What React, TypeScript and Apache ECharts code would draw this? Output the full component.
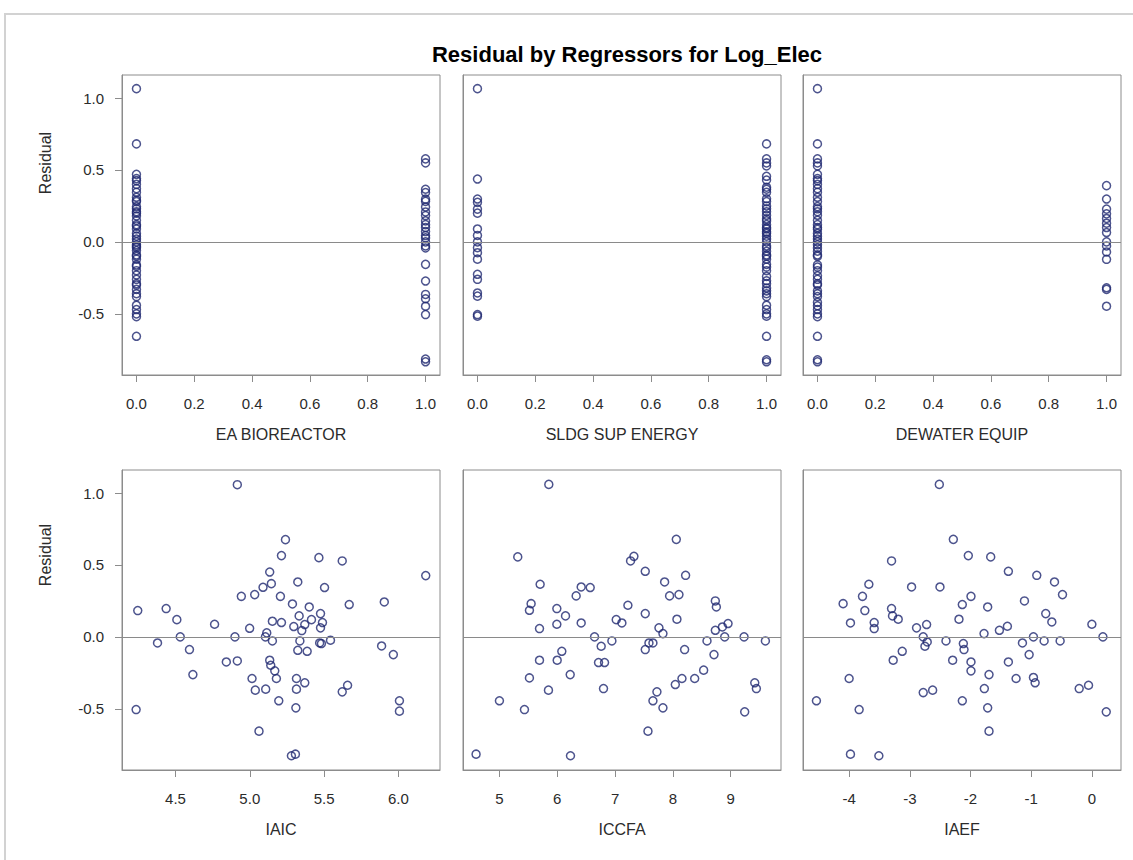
import React, { useEffect, useRef } from "react";
import * as echarts from "echarts";

const TITLE = "Residual by Regressors for Log_Elec";
const Y_NAME = "Residual";
const X_NAMES = ["EA BIOREACTOR", "SLDG SUP ENERGY", "DEWATER EQUIP", "IAIC", "ICCFA", "IAEF"];

const Y_TICKS = [-0.5, 0, 0.5, 1.0];
const BIN_TICKS = [0, 0.2, 0.4, 0.6, 0.8, 1.0];
const IAIC_TICKS = [4.5, 5.0, 5.5, 6.0];
const ICCFA_TICKS = [5, 6, 7, 8, 9];
const IAEF_TICKS = [-4, -3, -2, -1, 0];

// Residuals at indicator value 0 / 1
const eaBio0 = [1.065, 0.681, 0.47, 0.44, 0.426, 0.4, 0.37, 0.345, 0.31, 0.29, 0.28, 0.245, 0.23, 0.21, 0.2, 0.18, 0.15, 0.12, 0.11, 0.09, 0.06, 0.04, 0.02, 0.0, -0.02, -0.03, -0.04, -0.06, -0.09, -0.1, -0.12, -0.16, -0.17, -0.2, -0.23, -0.26, -0.29, -0.3, -0.33, -0.36, -0.38, -0.44, -0.47, -0.5, -0.52, -0.656];
const eaBio1 = [0.577, 0.549, 0.366, 0.343, 0.297, 0.282, 0.243, 0.208, 0.183, 0.146, 0.12, 0.1, 0.072, 0.044, 0.028, 0.0, -0.028, -0.042, -0.156, -0.272, -0.365, -0.395, -0.447, -0.505, -0.814, -0.833];
const sldg0 = [1.065, 0.437, 0.298, 0.275, 0.228, 0.2, 0.09, 0.045, 0.0, -0.04, -0.075, -0.12, -0.225, -0.26, -0.355, -0.377, -0.505, -0.516];
const sldg1 = [0.681, 0.577, 0.549, 0.528, 0.456, 0.43, 0.38, 0.366, 0.345, 0.3, 0.28, 0.25, 0.23, 0.21, 0.185, 0.16, 0.146, 0.12, 0.1, 0.09, 0.07, 0.06, 0.04, 0.02, 0.0, -0.028, -0.042, -0.065, -0.09, -0.1, -0.12, -0.156, -0.175, -0.2, -0.24, -0.27, -0.29, -0.32, -0.34, -0.36, -0.38, -0.44, -0.47, -0.5, -0.516, -0.656, -0.819, -0.833];
const dewater0 = [1.065, 0.681, 0.577, 0.549, 0.528, 0.47, 0.44, 0.426, 0.4, 0.37, 0.345, 0.31, 0.28, 0.245, 0.23, 0.21, 0.185, 0.15, 0.12, 0.1, 0.088, 0.06, 0.04, 0.02, 0.0, -0.02, -0.042, -0.065, -0.09, -0.1, -0.16, -0.175, -0.2, -0.236, -0.26, -0.29, -0.3, -0.34, -0.36, -0.38, -0.42, -0.444, -0.47, -0.5, -0.52, -0.656, -0.819, -0.833];
const dewater1 = [0.391, 0.298, 0.228, 0.195, 0.163, 0.13, 0.1, 0.065, 0.0, -0.028, -0.07, -0.121, -0.319, -0.33, -0.447];

// [regressor, residual]
const iaic = [
  [4.916, 1.058], [5.24, 0.676], [5.213, 0.565], [5.465, 0.551], [5.622, 0.528], [6.184, 0.426],
  [5.134, 0.451], [5.145, 0.37], [5.089, 0.345], [5.323, 0.382], [5.503, 0.343], [4.943, 0.282],
  [5.033, 0.294], [5.206, 0.282], [5.287, 0.229], [5.4, 0.208], [5.669, 0.225], [5.905, 0.243],
  [4.246, 0.183], [4.437, 0.197], [4.509, 0.12], [4.763, 0.088], [4.999, 0.06], [5.152, 0.109],
  [5.213, 0.1], [5.296, 0.072], [5.332, 0.146], [5.37, 0.086], [5.35, 0.044], [5.415, 0.12],
  [5.476, 0.162], [5.489, 0.1], [5.476, 0.063], [5.543, -0.023], [5.47, -0.042], [5.482, -0.046],
  [5.337, -0.028], [5.323, -0.093], [5.386, -0.1], [5.114, 0.028], [5.105, 0.0], [5.152, -0.028],
  [4.9, 0.0], [4.532, 0.0], [4.379, -0.042], [4.594, -0.088], [5.887, -0.063], [5.966, -0.123],
  [4.617, -0.262], [4.842, -0.174], [4.916, -0.167], [5.134, -0.162], [5.141, -0.197], [5.168, -0.236],
  [5.179, -0.289], [5.015, -0.289], [5.037, -0.37], [5.107, -0.363], [5.195, -0.444], [5.314, -0.289],
  [5.37, -0.319], [5.314, -0.363], [5.31, -0.493], [5.658, -0.336], [5.622, -0.382], [6.007, -0.444],
  [6.007, -0.516], [4.235, -0.505], [5.062, -0.655], [5.28, -0.826], [5.307, -0.815],
];
const iccfa = [
  [5.854, 1.06], [8.059, 0.678], [5.317, 0.556], [7.326, 0.56], [7.268, 0.528], [7.522, 0.456],
  [8.22, 0.428], [7.857, 0.382], [5.704, 0.366], [6.414, 0.347], [6.57, 0.343], [6.327, 0.285],
  [7.943, 0.285], [8.105, 0.294], [5.548, 0.231], [5.519, 0.185], [7.222, 0.22], [5.993, 0.197],
  [6.143, 0.146], [7.522, 0.162], [8.734, 0.25], [8.752, 0.208], [7.02, 0.12], [7.118, 0.097],
  [6.414, 0.097], [5.993, 0.088], [5.693, 0.058], [8.07, 0.123], [7.759, 0.063], [7.828, 0.023],
  [8.954, 0.093], [8.856, 0.069], [8.734, 0.046], [8.896, 0.0], [9.231, 0.0], [9.6, -0.028],
  [6.645, 0.0], [6.76, -0.065], [6.945, -0.028], [7.586, -0.042], [7.655, -0.042], [7.522, -0.088],
  [8.59, -0.028], [8.203, -0.088], [8.711, -0.123], [6.079, -0.1], [5.999, -0.162], [5.693, -0.162],
  [6.714, -0.178], [6.818, -0.178], [6.224, -0.262], [5.519, -0.285], [8.532, -0.231], [8.377, -0.289],
  [8.157, -0.289], [8.042, -0.331], [6.8, -0.359], [5.848, -0.37], [7.724, -0.382], [7.655, -0.444],
  [7.828, -0.493], [5.0, -0.444], [5.433, -0.505], [9.416, -0.319], [9.444, -0.359], [9.242, -0.521],
  [7.569, -0.655], [4.596, -0.815], [6.229, -0.826],
];
const iaef = [
  [-2.514, 1.06], [-2.283, 0.678], [-2.036, 0.565], [-1.667, 0.556], [-3.301, 0.528], [-1.376, 0.456],
  [-0.908, 0.428], [-0.616, 0.382], [-0.484, 0.294], [-3.675, 0.366], [-2.971, 0.347], [-2.503, 0.347],
  [-3.78, 0.282], [-1.992, 0.282], [-4.099, 0.231], [-3.741, 0.183], [-3.301, 0.197], [-2.135, 0.225],
  [-1.717, 0.208], [-1.111, 0.25], [-3.285, 0.146], [-3.191, 0.123], [-3.978, 0.097], [-3.587, 0.1],
  [-3.587, 0.058], [-2.889, 0.063], [-2.723, 0.086], [-2.19, 0.123], [-0.76, 0.162], [-0.66, 0.104],
  [-1.392, 0.074], [-1.524, 0.046], [-1.777, 0.023], [0.0, 0.088], [0.182, 0.0], [-2.779, 0.0],
  [-2.713, -0.035], [-2.751, -0.065], [-2.404, -0.028], [-2.118, -0.046], [-2.107, -0.088], [-1.144, -0.042],
  [-0.963, 0.0], [-0.787, -0.028], [-0.523, -0.028], [-1.034, -0.123], [-3.125, -0.1], [-3.274, -0.162],
  [-2.294, -0.162], [-1.992, -0.174], [-1.992, -0.236], [-1.376, -0.174], [-1.695, -0.262], [-1.249, -0.289],
  [-0.963, -0.282], [-0.935, -0.319], [-4.0, -0.289], [-1.772, -0.359], [-2.779, -0.387], [-2.624, -0.37],
  [-0.209, -0.359], [-0.055, -0.336], [-4.539, -0.444], [-3.835, -0.505], [-2.135, -0.444], [-1.717, -0.493],
  [0.237, -0.521], [-1.695, -0.655], [-3.978, -0.815], [-3.51, -0.826],
];

const FONT = "'Liberation Sans', Arial, sans-serif";
const FRAME = "#8c8c8c";
const MARK = "#1f2870";
const TEXT = "#2b2b2b";

const indicator = (zero: number[], one: number[]) =>
  zero.map((r) => [0, r]).concat(one.map((r) => [1, r]));

export default function App() {
  const ref = useRef<HTMLDivElement>(null);

  useEffect(() => {
    if (!ref.current) return;
    const chart = echarts.init(ref.current, undefined, { renderer: "svg" });

    const grids = [
      { left: 122, top: 75, width: 318, height: 300 },
      { left: 463, top: 75, width: 318, height: 300 },
      { left: 803, top: 75, width: 318, height: 300 },
      { left: 122, top: 470, width: 318, height: 300 },
      { left: 463, top: 470, width: 318, height: 300 },
      { left: 803, top: 470, width: 318, height: 300 },
    ].map((g) => ({ ...g, show: true, borderColor: FRAME, borderWidth: 1, backgroundColor: "#fff" }));

    const xSpecs = [
      { min: -0.05, max: 1.05, ticks: BIN_TICKS, fmt: (v: number) => v.toFixed(1) },
      { min: -0.05, max: 1.05, ticks: BIN_TICKS, fmt: (v: number) => v.toFixed(1) },
      { min: -0.05, max: 1.05, ticks: BIN_TICKS, fmt: (v: number) => v.toFixed(1) },
      { min: 4.14, max: 6.28, ticks: IAIC_TICKS, fmt: (v: number) => v.toFixed(1) },
      { min: 4.37, max: 9.87, ticks: ICCFA_TICKS, fmt: (v: number) => String(Math.round(v)) },
      { min: -4.76, max: 0.48, ticks: IAEF_TICKS, fmt: (v: number) => String(Math.round(v)) },
    ];

    const xAxis = xSpecs.map((s, i) => ({
      type: "value",
      gridIndex: i,
      min: s.min,
      max: s.max,
      name: X_NAMES[i],
      nameLocation: "middle",
      nameGap: 51,
      nameTextStyle: { fontFamily: FONT, fontSize: 16, color: TEXT },
      splitLine: { show: false },
      axisLine: { show: true, onZero: false, lineStyle: { color: FRAME, width: 1 } },
      axisTick: { show: true, length: 7, customValues: s.ticks, lineStyle: { color: FRAME } },
      axisLabel: {
        customValues: s.ticks,
        formatter: s.fmt,
        margin: 21,
        fontFamily: FONT,
        fontSize: 15,
        color: TEXT,
      },
    }));

    const yAxis = [0, 1, 2, 3, 4, 5].map((i) => {
      const left = i === 0 || i === 3;
      return {
        type: "value",
        gridIndex: i,
        min: -0.925,
        max: 1.16,
        splitLine: { show: false },
        axisLine: { show: true, onZero: false, lineStyle: { color: FRAME, width: 1 } },
        axisTick: { show: left, length: 7, customValues: Y_TICKS, lineStyle: { color: FRAME } },
        axisLabel: {
          show: left,
          customValues: Y_TICKS,
          formatter: (v: number) => v.toFixed(1),
          margin: 18,
          fontFamily: FONT,
          fontSize: 15,
          color: TEXT,
        },
      };
    });

    const panelData = [
      indicator(eaBio0, eaBio1),
      indicator(sldg0, sldg1),
      indicator(dewater0, dewater1),
      iaic,
      iccfa,
      iaef,
    ];

    const series = panelData.map((d, i) => ({
      type: "scatter",
      xAxisIndex: i,
      yAxisIndex: i,
      data: d,
      symbol: "circle",
      symbolSize: 8,
      itemStyle: { color: "rgba(0,0,0,0)", borderColor: MARK, borderWidth: 1.5 },
      markLine: {
        silent: true,
        symbol: ["none", "none"],
        label: { show: false },
        lineStyle: { color: "#8a8a8a", width: 1, type: "solid" },
        data: [{ yAxis: 0 }],
      },
    }));

    chart.setOption({
      animation: false,
      backgroundColor: "#fff",
      title: {
        text: TITLE,
        left: 622,
        top: 38,
        textAlign: "center",
        textStyle: { fontFamily: FONT, fontSize: 22, fontWeight: "bold", color: "#000" },
      },
      grid: grids,
      xAxis,
      yAxis,
      series,
      graphic: [
        {
          type: "rect",
          z: -1,
          shape: { x: 5, y: 14, width: 1150, height: 870 },
          style: { fill: "none", stroke: "#d2d2d2", lineWidth: 2 },
        },
        {
          type: "text",
          x: 45,
          y: 163,
          rotation: Math.PI / 2,
          style: { text: Y_NAME, font: `16px ${FONT}`, fill: TEXT, align: "center", verticalAlign: "middle" },
        },
        {
          type: "text",
          x: 45,
          y: 555,
          rotation: Math.PI / 2,
          style: { text: Y_NAME, font: `16px ${FONT}`, fill: TEXT, align: "center", verticalAlign: "middle" },
        },
      ],
    });

    return () => chart.dispose();
  }, []);

  return <div ref={ref} style={{ position: "absolute", left: 0, top: 0, width: 1133, height: 860 }} />;
}
